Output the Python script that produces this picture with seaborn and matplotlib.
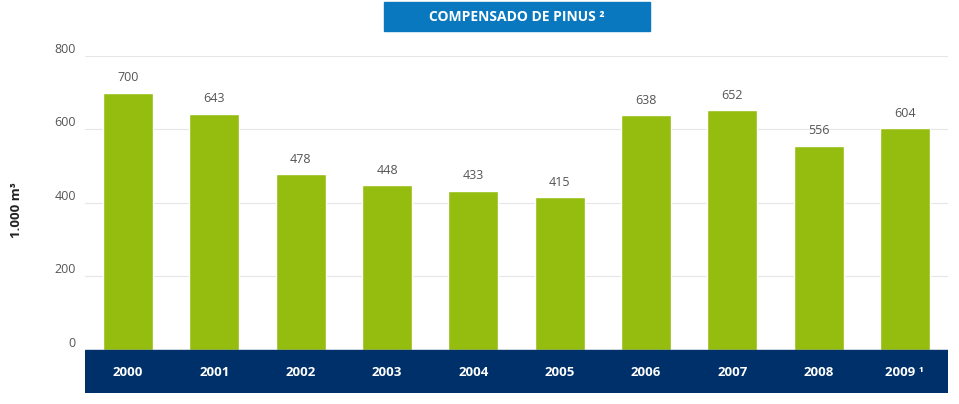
import matplotlib
matplotlib.use("Agg")
import matplotlib.pyplot as plt
import seaborn as sns
import pandas as pd

years = ["2000", "2001", "2002", "2003", "2004", "2005", "2006", "2007", "2008", "2009"]
year_labels = ["2000", "2001", "2002", "2003", "2004", "2005", "2006", "2007", "2008", "2009 ¹"]
values = [700, 643, 478, 448, 433, 415, 638, 652, 556, 604]
yticks = [0, 200, 400, 600, 800]
title = "COMPENSADO DE PINUS ²"
ylabel = "1.000 m³"

GREEN = "#95bd0f"
NAVY = "#00306a"
BLUE = "#0a78bf"

sns.set_theme(style="white")
plt.rcParams["font.family"] = ["Open Sans", "DejaVu Sans"]

df = pd.DataFrame({"year": years, "value": values})

fig = plt.figure(figsize=(9.59, 4.04), dpi=100)
ax = fig.add_axes([85/959, 11/404, 863/959, 337/404])

sns.barplot(data=df, x="year", y="value", color=GREEN, width=0.58,
            saturation=1, ax=ax, zorder=3)
ax.set_xlim(-0.5, 9.5)
ax.set_ylim(-118, 800)
ax.set_yticks(yticks)
ax.set_yticklabels([str(t) for t in yticks], fontsize=9, color="#555555")
ax.tick_params(axis="y", length=0, pad=6.5)
for lbl in ax.get_yticklabels():
    lbl.set_verticalalignment("bottom")
ax.yaxis.grid(True, color="#e6e6e6", linewidth=0.8, zorder=0)
ax.set_xticks([])
ax.set_xlabel("")
ax.set_ylabel("")
for s in ax.spines.values():
    s.set_visible(False)

ax.axhspan(-118, 0, color=NAVY, zorder=4)
for i, lab in enumerate(year_labels):
    ax.text(i, -63, lab, ha="center", va="center", color="white",
            fontsize=9.5, fontweight="bold", zorder=5)

for c in ax.containers:
    ax.bar_label(c, labels=[str(v) for v in values], padding=6,
                 fontsize=9, color="#555555")

fig.text(17/959, 1 - 210/404, ylabel, rotation=90, ha="center", va="center",
         fontsize=9.5, fontweight="bold", color="#222222")

# title box
fig.patches.append(plt.Rectangle((384/959, 1 - 31/404), 266/959, 29/404,
                                 transform=fig.transFigure, color=BLUE,
                                 zorder=0))
fig.text(517/959, 1 - 17/404, title, ha="center", va="center",
         fontsize=10, fontweight="bold", color="white")

fig.savefig("out.png", dpi=100)
